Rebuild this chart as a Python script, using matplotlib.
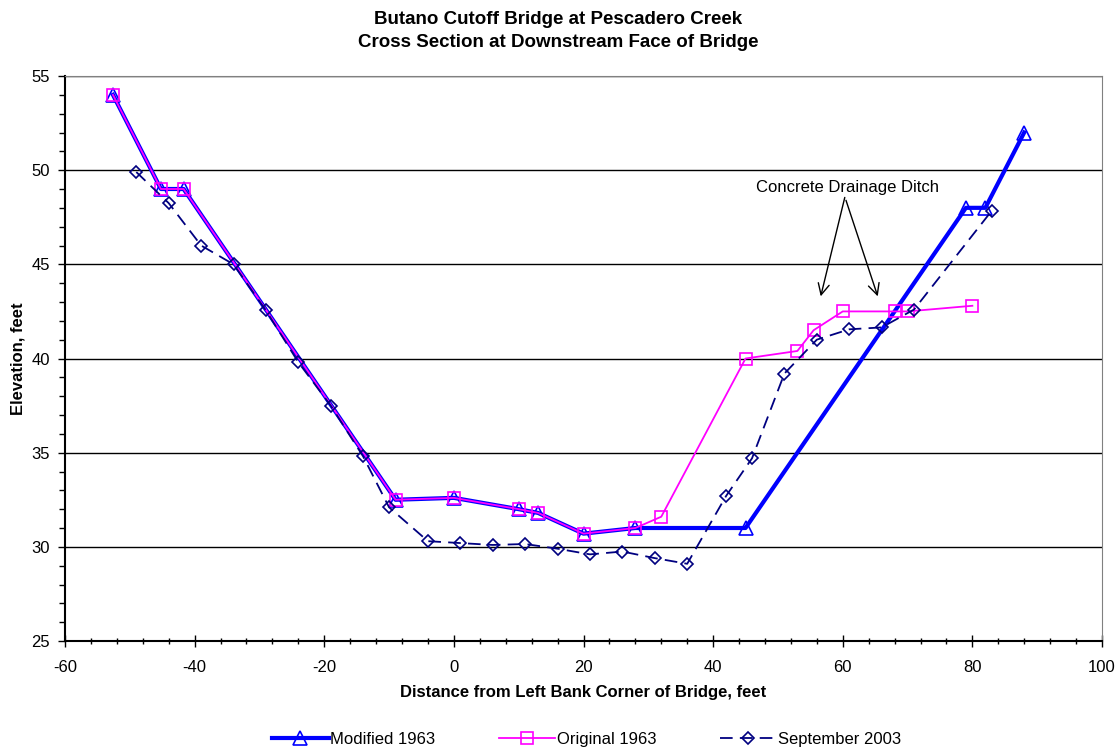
import matplotlib
matplotlib.use("Agg")
from matplotlib import pyplot as plt
from matplotlib.ticker import MultipleLocator

plt.rcParams["font.family"] = ["Liberation Sans", "DejaVu Sans"]
plt.rcParams["font.size"] = 12
plt.rcParams["axes.unicode_minus"] = False

# Modified 1963
mod_x = [-52.6, -45.2, -41.7, -9.0, 0.0, 10.0, 13.0, 20.0, 28.0, 45.0, 79.0, 82.0, 88.0]
mod_y = [54.0, 49.0, 49.0, 32.5, 32.6, 32.0, 31.8, 30.7, 31.0, 31.0, 48.0, 48.0, 52.0]

# Original 1963
orig_x = [-52.6, -45.2, -41.7, -9.0, 0.0, 10.0, 13.0, 20.0, 28.0, 32.0, 45.0, 53.0,
          55.5, 60.0, 68.0, 70.0, 80.0]
orig_y = [54.0, 49.0, 49.0, 32.5, 32.6, 32.0, 31.8, 30.7, 31.0, 31.6, 40.0, 40.4,
          41.5, 42.5, 42.5, 42.5, 42.8]

# September 2003
sep_x = [-49.0, -44.0, -39.0, -34.0, -29.0, -24.0, -19.0, -14.0, -10.0, -4.0, 1.0,
         6.0, 11.0, 16.0, 21.0, 26.0, 31.0, 36.0, 42.0, 46.0, 51.0, 56.0, 61.0,
         66.0, 71.0, 83.0]
sep_y = [49.9, 48.25, 46.0, 45.0, 42.55, 39.8, 37.5, 34.8, 32.1, 30.3, 30.2, 30.1,
         30.15, 29.9, 29.6, 29.75, 29.4, 29.1, 32.7, 34.7, 39.2, 41.0, 41.55,
         41.65, 42.6, 47.85]

fig = plt.figure(figsize=(11.17, 7.48), dpi=100)
ax = fig.add_axes([65 / 1117, 1 - 641 / 748, (1102 - 65) / 1117, (641 - 76) / 748])

ax.plot(mod_x, mod_y, color="#0000ff", lw=3, marker="^", ms=10, mfc="none",
        mec="#0000ff", mew=1.2, label="Modified 1963", zorder=3)
ax.plot(orig_x, orig_y, color="#ff00ff", lw=1.3, marker="s", ms=8, mfc="none",
        mec="#ff00ff", mew=1.2, label="Original 1963", zorder=4)
ax.plot(sep_x, sep_y, color="#000080", lw=1.3, ls=(0, (7, 4)), marker="D", ms=6,
        mfc="none", mec="#000080", mew=1.2, label="September 2003", zorder=5)

ax.set_xlim(-60, 100)
ax.set_ylim(25, 55)
ax.xaxis.set_major_locator(MultipleLocator(20))
ax.xaxis.set_minor_locator(MultipleLocator(4))
ax.yaxis.set_major_locator(MultipleLocator(5))
ax.yaxis.set_minor_locator(MultipleLocator(1))
ax.tick_params(axis="x", which="major", direction="inout", length=8, width=1, pad=10)
ax.tick_params(axis="x", which="minor", direction="inout", length=5, width=1)
ax.tick_params(axis="y", which="major", direction="out", length=5, width=1, pad=6)
ax.tick_params(axis="y", which="minor", direction="out", length=4, width=1)
ax.tick_params(labelsize=12)

ax.grid(axis="y", which="major", color="black", lw=1)
ax.set_axisbelow(True)
for side in ["top", "right"]:
    ax.spines[side].set_color("#808080")
for side in ["left", "bottom"]:
    ax.spines[side].set_linewidth(1.5)

ax.set_xlabel("Distance from Left Bank Corner of Bridge, feet", fontweight="bold",
              fontsize=12, labelpad=7)
ax.set_ylabel("Elevation, feet", fontweight="bold", fontsize=12, labelpad=4)
fig.text(0.5, 1 - 31 / 748,
         "Butano Cutoff Bridge at Pescadero Creek\nCross Section at Downstream Face of Bridge",
         ha="center", va="center", fontweight="bold", fontsize=13.5, linespacing=1.5)

# annotation with two arrows
arrow_style = dict(arrowstyle="->", color="black", lw=1, mutation_scale=20,
                   shrinkA=0, shrinkB=0)
ax.annotate("Concrete Drainage Ditch", xy=(56.6, 43.3), xytext=(60.7, 48.7),
            ha="center", va="bottom", fontsize=12, arrowprops=arrow_style)
ax.annotate("", xy=(65.4, 43.3), xytext=(60.5, 48.4), arrowprops=arrow_style)

ax.legend(loc="upper center", bbox_to_anchor=(0.503, -0.135), ncol=3, frameon=False,
          fontsize=12, handlelength=3.4, columnspacing=3.8, handletextpad=0.1)

fig.savefig("out.png", dpi=100)
